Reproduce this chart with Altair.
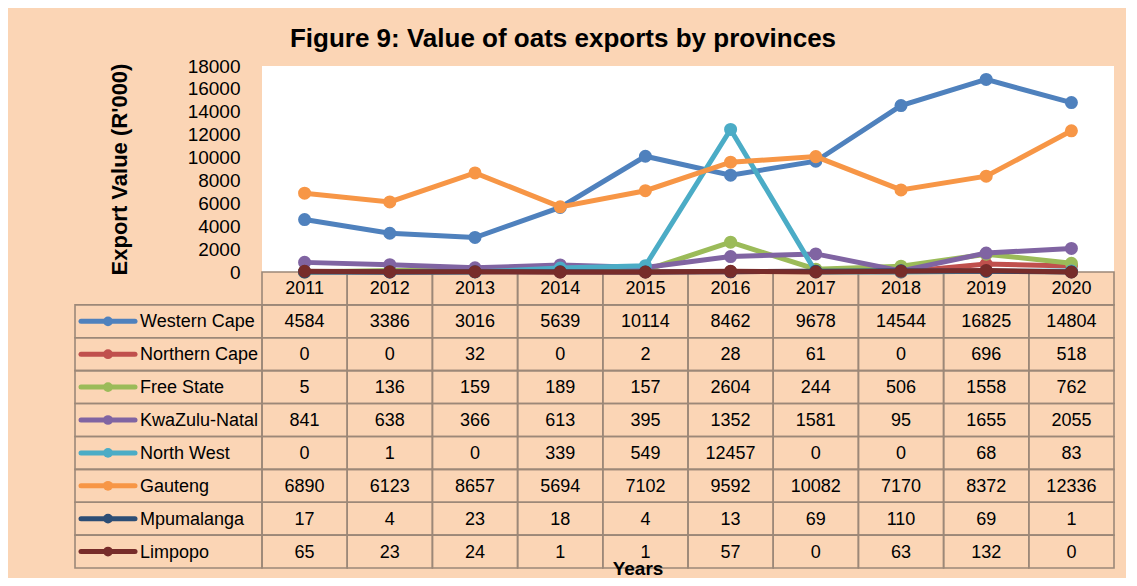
import altair as alt
import pandas as pd

FONT = "Liberation Sans, Arial, Helvetica, sans-serif"

years = ["2011", "2012", "2013", "2014", "2015", "2016", "2017", "2018", "2019", "2020"]
provinces = ["Western Cape", "Northern Cape", "Free State", "KwaZulu-Natal",
             "North West", "Gauteng", "Mpumalanga", "Limpopo"]
colors = ["#4F81BD", "#C0504D", "#9BBB59", "#8064A2",
          "#4BACC6", "#F79646", "#2C4D75", "#772C2A"]

western_cape = [4584, 3386, 3016, 5639, 10114, 8462, 9678, 14544, 16825, 14804]
northern_cape = [0, 0, 32, 0, 2, 28, 61, 0, 696, 518]
free_state = [5, 136, 159, 189, 157, 2604, 244, 506, 1558, 762]
kwazulu_natal = [841, 638, 366, 613, 395, 1352, 1581, 95, 1655, 2055]
north_west = [0, 1, 0, 339, 549, 12457, 0, 0, 68, 83]
gauteng = [6890, 6123, 8657, 5694, 7102, 9592, 10082, 7170, 8372, 12336]
mpumalanga = [17, 4, 23, 18, 4, 13, 69, 110, 69, 1]
limpopo = [65, 23, 24, 1, 1, 57, 0, 63, 132, 0]

series = [western_cape, northern_cape, free_state, kwazulu_natal,
          north_west, gauteng, mpumalanga, limpopo]

title_text = "Figure 9: Value of oats exports by provinces"
y_title = "Export Value (R'000)"
x_title = "Years"
header_key = "Year"
rows = [header_key] + provinces
y_ticks = [0, 2000, 4000, 6000, 8000, 10000, 12000, 14000, 16000, 18000]

# ---- data tables ----
long_rows = []
for p, vals in zip(provinces, series):
    for y, v in zip(years, vals):
        long_rows.append({"province": p, "row": p, "year": y, "value": v})
df = pd.DataFrame(long_rows)
header_df = pd.DataFrame({"year": years, "row": [header_key] * len(years)})
cells_df = pd.DataFrame([{"year": y, "row": r} for r in rows for y in years])
legend_df = pd.DataFrame({"province": provinces, "row": provinces})

x_scale = alt.Scale(type="band", domain=years, paddingInner=0, paddingOuter=0)
y_table = alt.Scale(type="band", domain=rows, range=[206, 502], paddingInner=0, paddingOuter=0)
color_scale = alt.Scale(domain=provinces, range=colors)
BORDER = "#9C8878"
TFS = 18

# ---- table layers ----
cells = alt.Chart(cells_df).mark_rect(fill="#FBD5B5", fillOpacity=0, stroke=BORDER, strokeWidth=1.6).encode(
    x=alt.X("year:O", scale=x_scale, axis=None),
    y=alt.Y("row:N", scale=y_table, axis=None),
)
left_cells = alt.Chart(legend_df).mark_rect(fill="#FBD5B5", fillOpacity=0, stroke=BORDER, strokeWidth=1.6).encode(
    x=alt.value(-187), x2=alt.value(0),
    y=alt.Y("row:N", scale=y_table, axis=None),
)
header_text = alt.Chart(header_df).mark_text(font=FONT, fontSize=TFS, color="black", dy=1).encode(
    x=alt.X("year:O", scale=x_scale, axis=None, bandPosition=0.5),
    y=alt.Y("row:N", scale=y_table, axis=None, bandPosition=0.5),
    text="year:N",
)
value_text = alt.Chart(df).mark_text(font=FONT, fontSize=TFS, color="black", dy=1).encode(
    x=alt.X("year:O", scale=x_scale, axis=None, bandPosition=0.5),
    y=alt.Y("row:N", scale=y_table, axis=None, bandPosition=0.5),
    text=alt.Text("value:Q", format="d"),
)
swatch_line = alt.Chart(legend_df).mark_rule(strokeWidth=5, strokeCap="round").encode(
    x=alt.value(-181), x2=alt.value(-127),
    y=alt.Y("row:N", scale=y_table, axis=None, bandPosition=0.5),
    color=alt.Color("province:N", scale=color_scale, legend=None),
)
swatch_dot = alt.Chart(legend_df).mark_circle(size=95, opacity=1).encode(
    x=alt.value(-154),
    y=alt.Y("row:N", scale=y_table, axis=None, bandPosition=0.5),
    color=alt.Color("province:N", scale=color_scale, legend=None),
)
legend_text = alt.Chart(legend_df).mark_text(font=FONT, fontSize=TFS, color="black", align="left", dy=1).encode(
    x=alt.value(-122),
    y=alt.Y("row:N", scale=y_table, axis=None, bandPosition=0.5),
    text="province:N",
)
table = alt.layer(cells, left_cells, header_text, value_text, swatch_line, swatch_dot, legend_text)

# ---- line layers ----
y_axis = alt.Axis(
    title=y_title, values=y_ticks, format="d", labelOverlap=False, ticks=False, domain=False,
    labelFont=FONT, labelFontSize=19, labelColor="black", labelPadding=22,
    titleFont=FONT, titleFontSize=22, titleFontWeight="bold", titleColor="black", titlePadding=56,
    gridColor="#A6A6A6", gridWidth=2,
)
y_line = alt.Scale(domain=[0, 18000], nice=False)
line_layers = []
for p in provinces:
    b = alt.Chart(df).transform_filter(alt.datum.province == p)
    enc = dict(
        x=alt.X("year:O", scale=x_scale, axis=None, bandPosition=0.5),
        y=alt.Y("value:Q", scale=y_line, axis=y_axis),
        color=alt.Color("province:N", scale=color_scale, legend=None),
    )
    line_layers.append(b.mark_line(strokeWidth=5).encode(**enc))
    line_layers.append(b.mark_circle(size=170, opacity=1).encode(**enc))
lines = alt.layer(*line_layers)

# ---- titles as text ----
title_df = pd.DataFrame({"t": [title_text]})
title_mark = alt.Chart(title_df).mark_text(font=FONT, fontSize=26, fontWeight="bold", color="black",
                                           baseline="alphabetic").encode(
    x=alt.value(301), y=alt.value(-19), text="t:N")
xt_df = pd.DataFrame({"t": [x_title]})
xt_mark = alt.Chart(xt_df).mark_text(font=FONT, fontSize=19, fontWeight="bold", color="black",
                                     baseline="alphabetic").encode(
    x=alt.value(376), y=alt.value(509), text="t:N")

chart = alt.layer(table, lines, title_mark, xt_mark).resolve_scale(y="independent").properties(
    width=852, height=206,
    padding={"left": 254, "top": 58, "right": 12, "bottom": 306},
    autosize=alt.AutoSizeParams(type="none"),
    background="#FBD5B5",
).configure_view(fill="white", stroke=None)

chart.save("out.html", embed_options={"renderer": "svg", "actions": False})
